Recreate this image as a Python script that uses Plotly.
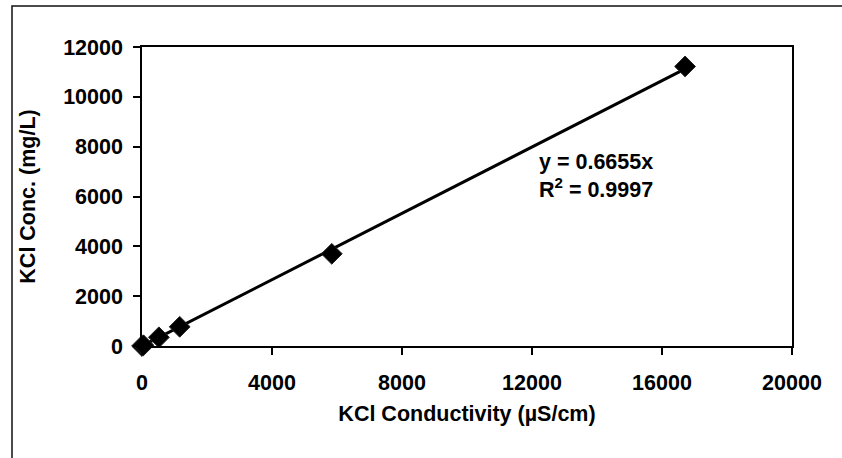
import plotly.graph_objects as go

# Calibration data: KCl conductivity vs. concentration
conductivity = [0, 45, 520, 1160, 5840, 16710]      # µS/cm
concentration = [0, 30, 350, 770, 3700, 11220]      # mg/L

# Linear fit through the origin
slope = 0.6655
r_squared = 0.9997

fit_x = [0, max(conductivity)]
fit_y = [slope * v for v in fit_x]

FONT = dict(family="Liberation Sans, Arial, sans-serif", size=21.5, color="black", weight="bold")

fig = go.Figure()

fig.add_trace(go.Scatter(
    x=fit_x, y=fit_y, mode="lines",
    line=dict(color="black", width=3),
    hoverinfo="skip", showlegend=False, cliponaxis=False,
))

fig.add_trace(go.Scatter(
    x=conductivity, y=concentration, mode="markers",
    marker=dict(symbol="diamond", size=16, color="black",
                line=dict(color="#222222", width=1)),
    showlegend=False, cliponaxis=False,
))

fig.add_annotation(
    x=12150, y=6840, xref="x", yref="y",
    xanchor="left", yanchor="middle", align="left",
    text=f"y = {slope:.4f}x<br>R<sup>2</sup> = {r_squared:.4f}",
    showarrow=False, font=FONT,
)

# Outer chart frame
fig.add_shape(
    type="rect", xref="paper", yref="paper",
    x0=-0.2, x1=1.3, y0=-0.5, y1=1.137,
    line=dict(color="#111111", width=1.5), layer="below",
)

axis_common = dict(
    showline=True, linecolor="black", linewidth=1.5, mirror=True,
    ticks="outside", ticklen=7, tickwidth=1.5, tickcolor="black",
    showgrid=False, zeroline=False, tickfont=FONT, tickformat="d",
)

fig.update_xaxes(
    range=[0, 20000], tick0=0, dtick=4000,
    title=dict(text="KCl Conductivity (µS/cm)", font=FONT, standoff=12),
    ticklabelstandoff=9,
    **axis_common,
)
fig.update_yaxes(
    range=[0, 12000], tick0=0, dtick=2000,
    title=dict(text="KCl Conc. (mg/L)", font=FONT, standoff=22),
    ticklabelstandoff=6,
    **axis_common,
)

fig.update_layout(
    width=842, height=458,
    margin=dict(l=142, r=50, t=47, b=112),
    paper_bgcolor="white", plot_bgcolor="white",
    showlegend=False,
)

fig.write_html("out.html")
